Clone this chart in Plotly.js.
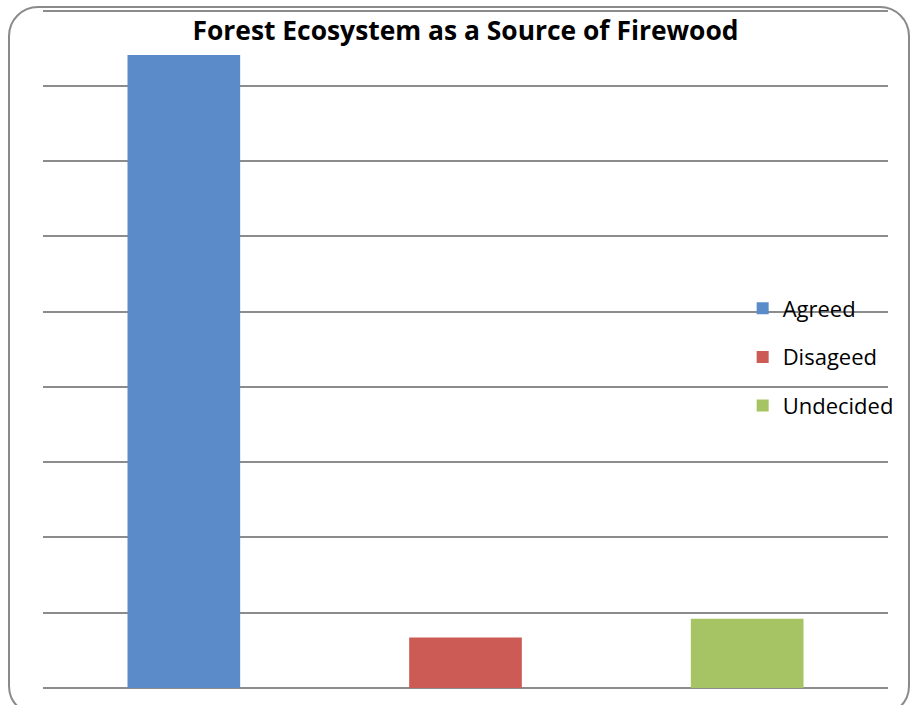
<!DOCTYPE html>
<html>
<head>
<meta charset="utf-8">
<script src="https://cdn.plot.ly/plotly-3.0.1.min.js"></script>
<style>
  html, body { margin:0; padding:0; width:912px; height:705px; overflow:hidden; background:#fff; }
  #chart { position:absolute; left:0; top:0; width:912px; height:705px; }
  #frame { position:absolute; left:8px; top:6px; width:902px; height:710px;
           border:2px solid #8a8a8a; border-radius:30px; pointer-events:none; box-sizing:border-box; }
</style>
</head>
<body>
<div id="chart"></div>
<div id="frame"></div>
<script>
const categories = ['Agreed', 'Disageed', 'Undecided'];
const values = [84.1, 6.7, 9.2];
const colors = ['#5B8CC9', '#CC5B56', '#A6C463'];
const titleText = 'Forest Ecosystem as a Source of Firewood';

const traces = categories.map((c, i) => ({
  type: 'bar',
  name: c,
  x: [c],
  y: [values[i]],
  width: 0.4,
  marker: { color: colors[i], line: { width: 0 } },
  legendgroup: 'g' + i,
  hoverinfo: 'name+y'
}));

const layout = {
  width: 912, height: 705,
  margin: { l: 43, r: 24, t: 3, b: 17, pad: 0 },
  paper_bgcolor: 'rgba(0,0,0,0)',
  plot_bgcolor: 'rgba(0,0,0,0)',
  barmode: 'overlay',
  showlegend: true,
  title: {
    text: '<b>' + titleText + '</b>',
    font: { family: 'Open Sans, sans-serif', size: 26.4, color: '#000' },
    xref: 'paper', x: 0.5, xanchor: 'center',
    yref: 'container', y: 1 - 31/705, yanchor: 'middle'
  },
  xaxis: {
    type: 'category',
    categoryorder: 'array', categoryarray: categories,
    showticklabels: false, ticks: '', showgrid: false, zeroline: false, showline: false
  },
  yaxis: {
    range: [0, 91], dtick: 10, tick0: 0,
    showticklabels: false, ticks: '',
    showgrid: true, gridcolor: '#8c8c8c', gridwidth: 2,
    zeroline: true, zerolinecolor: '#8c8c8c', zerolinewidth: 2,
    showline: false, fixedrange: true
  },
  legend: {
    x: 0.828, xanchor: 'left', y: 0.5847, yanchor: 'top',
    bgcolor: 'rgba(0,0,0,0)',
    font: { family: 'Open Sans, sans-serif', size: 22, color: '#000' },
    traceorder: 'grouped', tracegroupgap: 17,
    itemwidth: 30
  }
};

Plotly.newPlot('chart', traces, layout, { displayModeBar: false, staticPlot: true });
</script>
</body>
</html>
